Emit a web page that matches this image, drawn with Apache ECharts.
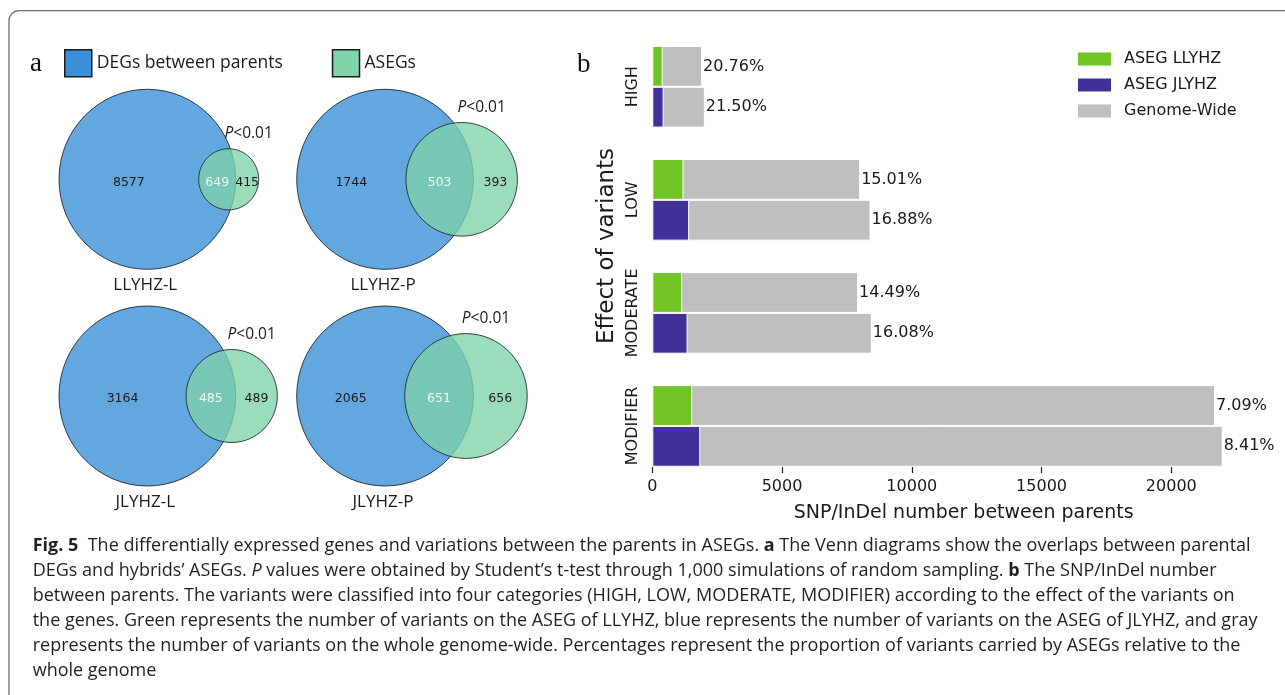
<!DOCTYPE html>
<html>
<head>
<meta charset="utf-8">
<script src="https://cdn.jsdelivr.net/npm/echarts@6.0.0/dist/echarts.min.js"></script>
<style>
html,body{margin:0;padding:0;background:#fff;}
#chart{width:1285px;height:695px;}
</style>
</head>
<body>
<div id="chart"></div>
<script>
// ---------------- DATA ----------------
// Panel a: Venn diagrams (DEGs between parents vs ASEGs)
const vennNames = ['LLYHZ-L', 'LLYHZ-P', 'JLYHZ-L', 'JLYHZ-P'];
const vennDegOnly = [8577, 1744, 3164, 2065];
const vennOverlap = [649, 503, 485, 651];
const vennAsegOnly = [415, 393, 489, 656];
const vennPText = '<0.01';
const vennLegendNames = ['DEGs between parents', 'ASEGs'];

// Panel b: SNP/InDel number between parents
const effectCategories = ['HIGH', 'LOW', 'MODERATE', 'MODIFIER'];
const genomeWideLLYHZ = [1920, 8010, 7930, 21685];
const genomeWideJLYHZ = [2025, 8410, 8460, 21980];
const asegLLYHZ = [400, 1202, 1149, 1537];
const asegJLYHZ = [436, 1420, 1360, 1849];
const pctLLYHZ = ['20.76%', '15.01%', '14.49%', '7.09%'];
const pctJLYHZ = ['21.50%', '16.88%', '16.08%', '8.41%'];
const xTicks = [0, 5000, 10000, 15000, 20000];
const barLegendNames = ['ASEG LLYHZ', 'ASEG JLYHZ', 'Genome-Wide'];

const captionLines = [
  '{b|Fig. 5}  The differentially expressed genes and variations between the parents in ASEGs. {b|a} The Venn diagrams show the overlaps between parental',
  'DEGs and hybrids\u2019 ASEGs. {i|P} values were obtained by Student\u2019s t-test through 1,000 simulations of random sampling. {b|b} The SNP/InDel number',
  'between parents. The variants were classified into four categories (HIGH, LOW, MODERATE, MODIFIER) according to the effect of the variants on',
  'the genes. Green represents the number of variants on the ASEG of LLYHZ, blue represents the number of variants on the ASEG of JLYHZ, and gray',
  'represents the number of variants on the whole genome-wide. Percentages represent the proportion of variants carried by ASEGs relative to the',
  'whole genome'
];

// ---------------- STYLE / LAYOUT ----------------
const TXT = '#1a1a1a';
const SANS = 'DejaVu Sans';
const OPEN = 'Open Sans';
const VENN_CX = [147.3, 385];
const VENN_CY = [179.3, 396];
const VENN_RX = 88.3, VENN_RY = 90;
const BLUE_FILL = '#62a7df';
const GREEN_FILL = 'rgba(126,210,169,0.78)';
const OUTLINE = 'rgba(35,35,35,0.85)';

const ELLIPSE_OK = !!(echarts.graphic && echarts.graphic.getShapeClass && echarts.graphic.getShapeClass('ellipse'));

// area-proportional two-circle layout (big circle radius 1)
function lensArea(r1, r2, d) {
  if (d >= r1 + r2) return 0;
  if (d <= Math.abs(r1 - r2)) return Math.PI * Math.min(r1, r2) * Math.min(r1, r2);
  const a1 = Math.acos((d * d + r1 * r1 - r2 * r2) / (2 * d * r1));
  const a2 = Math.acos((d * d + r2 * r2 - r1 * r1) / (2 * d * r2));
  return r1 * r1 * a1 + r2 * r2 * a2 -
    0.5 * Math.sqrt((-d + r1 + r2) * (d + r1 - r2) * (d - r1 + r2) * (d + r1 + r2));
}
function vennLayout(aOnly, ab, bOnly) {
  const A = aOnly + ab, B = bOnly + ab;
  const rB = Math.sqrt(B / A);
  const target = Math.PI * ab / A;
  let lo = Math.abs(1 - rB), hi = 1 + rB;
  for (let k = 0; k < 80; k++) {
    const mid = (lo + hi) / 2;
    if (lensArea(1, rB, mid) > target) lo = mid; else hi = mid;
  }
  const d = (lo + hi) / 2;
  return { d: d, rB: rB,
    xA: (-1 + d - rB) / 2, xO: (d - rB + 1) / 2, xB: (1 + d + rB) / 2 };
}

function circleRenderer(fill) {
  return function (params, api) {
    const c = api.coord([api.value(0), api.value(1)]);
    const s = api.size([api.value(2), api.value(2)]);
    const style = { fill: fill, stroke: OUTLINE, lineWidth: 1 };
    if (ELLIPSE_OK) {
      return { type: 'ellipse', shape: { cx: c[0], cy: c[1], rx: s[0], ry: s[1] }, style: style };
    }
    return { type: 'circle', shape: { cx: c[0], cy: c[1], r: (s[0] + s[1]) / 2 }, style: style };
  };
}
function numberRenderer(params, api) {
  const c = api.coord([api.value(0), api.value(1)]);
  const isOverlap = api.value(3) === 1;
  return { type: 'text', x: c[0], y: c[1] + 3,
    style: { text: String(api.value(2)), fill: isOverlap ? '#f2f5f5' : TXT,
      fontSize: 12.5, fontFamily: SANS, align: 'center', verticalAlign: 'middle' } };
}
function titleRenderer(params, api) {
  const c = api.coord([api.value(0), api.value(1)]);
  return { type: 'text', x: c[0] - 2, y: c[1] + 16,
    style: { text: vennNames[api.value(2)], fill: TXT, fontSize: 17, fontFamily: OPEN,
      align: 'center', verticalAlign: 'middle' } };
}
function pRenderer(params, api) {
  const c = api.coord([api.value(0), api.value(1)]);
  return { type: 'text', x: c[0] + 20, y: c[1] - 15,
    style: { text: '{i|P}' + vennPText, fill: TXT, fontSize: 15.5, fontFamily: OPEN,
      align: 'center', verticalAlign: 'middle',
      rich: { i: { fontStyle: 'italic', fontSize: 15.5, fontFamily: OPEN, fill: TXT, color: TXT } } } };
}

const grids = [], xAxes = [], yAxes = [], series = [];
vennNames.forEach(function (name, i) {
  const cx = VENN_CX[i % 2], cy = VENN_CY[Math.floor(i / 2)];
  grids.push({ left: cx - VENN_RX, top: cy - VENN_RY, width: 2 * VENN_RX, height: 2 * VENN_RY, outerBoundsMode: 'none' });
  xAxes.push({ gridIndex: i, type: 'value', min: -1, max: 1, show: false });
  yAxes.push({ gridIndex: i, type: 'value', min: -1, max: 1, show: false });
  const lay = vennLayout(vennDegOnly[i], vennOverlap[i], vennAsegOnly[i]);
  const common = { type: 'custom', coordinateSystem: 'cartesian2d', xAxisIndex: i, yAxisIndex: i,
    clip: false, silent: true, animation: false };
  series.push(Object.assign({}, common, { name: vennLegendNames[0], z: 2,
    itemStyle: { color: BLUE_FILL }, data: [[0, 0, 1]], renderItem: circleRenderer(BLUE_FILL) }));
  series.push(Object.assign({}, common, { name: vennLegendNames[1], z: 3,
    itemStyle: { color: GREEN_FILL }, data: [[lay.d, 0, lay.rB]], renderItem: circleRenderer(GREEN_FILL) }));
  series.push(Object.assign({}, common, { name: 'venn-counts-' + i, z: 4,
    data: [[lay.xA, 0, vennDegOnly[i], 0], [lay.xO, 0, vennOverlap[i], 1], [lay.xB, 0, vennAsegOnly[i], 2]],
    renderItem: numberRenderer }));
  series.push(Object.assign({}, common, { name: 'venn-title-' + i, z: 4,
    data: [[0, -1, i]], renderItem: titleRenderer }));
  series.push(Object.assign({}, common, { name: 'venn-p-' + i, z: 4,
    data: [[lay.d, lay.rB]], renderItem: pRenderer }));
});

// Panel b grid
grids.push({ left: 652.3, top: 30.25, width: 622.8, height: 452.2, outerBoundsMode: 'none' });
xAxes.push({ gridIndex: 4, type: 'value', min: 0, max: 24000, offset: -15.4,
  splitLine: { show: false }, axisLine: { show: false },
  axisTick: { show: true, length: 6, customValues: xTicks, lineStyle: { color: '#222', width: 1.2 } },
  axisLabel: { customValues: xTicks, fontSize: 16, fontFamily: SANS, color: TXT, margin: 12,
    formatter: function (v) { return String(v); } },
  name: 'SNP/InDel number between parents', nameLocation: 'middle', nameGap: 37,
  nameTextStyle: { fontSize: 19, fontFamily: SANS, color: TXT } });
yAxes.push({ gridIndex: 4, type: 'category', data: effectCategories, inverse: true,
  axisLine: { show: false }, axisTick: { show: false }, splitLine: { show: false },
  axisLabel: { rotate: 90, interval: 0, hideOverlap: false, fontSize: 16, fontFamily: SANS, color: TXT, margin: 11 } });
yAxes.push({ gridIndex: 4, type: 'category', data: effectCategories, inverse: true, show: false });

const barCommon = { type: 'bar', xAxisIndex: 4, barGap: '0%', barCategoryGap: '27.8%', animation: false, silent: true };
series.push(Object.assign({}, barCommon, { name: barLegendNames[2], yAxisIndex: 4, data: genomeWideLLYHZ,
  itemStyle: { color: '#bfbfbf', borderColor: '#ffffff', borderWidth: 1 },
  label: { show: true, position: 'right', distance: 1, formatter: function (p) { return pctLLYHZ[p.dataIndex]; },
    fontSize: 16, fontFamily: SANS, color: TXT } }));
series.push(Object.assign({}, barCommon, { name: barLegendNames[2], yAxisIndex: 4, data: genomeWideJLYHZ,
  itemStyle: { color: '#bfbfbf', borderColor: '#ffffff', borderWidth: 1 },
  label: { show: true, position: 'right', distance: 1, formatter: function (p) { return pctJLYHZ[p.dataIndex]; },
    fontSize: 16, fontFamily: SANS, color: TXT } }));
series.push(Object.assign({}, barCommon, { name: barLegendNames[0], yAxisIndex: 5, data: asegLLYHZ, z: 3,
  itemStyle: { color: '#70c424', borderColor: '#ffffff', borderWidth: 1 } }));
series.push(Object.assign({}, barCommon, { name: barLegendNames[1], yAxisIndex: 5, data: asegJLYHZ, z: 3,
  itemStyle: { color: '#433199', borderColor: '#ffffff', borderWidth: 1 } }));

// caption sizing (fit the known line width)
function fitSize(text, family, target) {
  const ctx = document.createElement('canvas').getContext('2d');
  ctx.font = '100px "' + family + '"';
  return 100 * target / ctx.measureText(text).width;
}
const CAP_FONT = 'Open Sans';
const capSize = fitSize(captionLines[3], CAP_FONT, 1226);
const captionGraphics = captionLines.map(function (line, k) {
  return { type: 'text', x: 32.7, y: 545.7 + 25 * k, silent: true,
    style: { text: line, fill: '#231f20', fontSize: capSize, fontFamily: CAP_FONT,
      align: 'left', verticalAlign: 'middle',
      rich: {
        b: { fontWeight: 'bold', fontSize: capSize, fontFamily: CAP_FONT, fill: '#231f20', color: '#231f20' },
        i: { fontStyle: 'italic', fontSize: capSize, fontFamily: CAP_FONT, fill: '#231f20', color: '#231f20' }
      } } };
});

const chart = echarts.init(document.getElementById('chart'), null, { renderer: 'canvas' });
chart.setOption({
  animation: false,
  backgroundColor: '#ffffff',
  grid: grids,
  xAxis: xAxes,
  yAxis: yAxes,
  legend: [
    { left: 59, top: 44, itemWidth: 27, itemHeight: 27, itemGap: 49, icon: 'rect', selectedMode: false,
      data: [
        { name: vennLegendNames[0], itemStyle: { color: '#3b8fd8', borderColor: '#1a1a1a', borderWidth: 1.5 } },
        { name: vennLegendNames[1], itemStyle: { color: '#7fd4a9', borderColor: '#1a1a1a', borderWidth: 1.5 } }
      ],
      textStyle: { fontFamily: OPEN, fontSize: 17.5, color: TXT } },
    { orient: 'vertical', left: 1073, top: 46, itemWidth: 33, itemHeight: 13, itemGap: 10, icon: 'rect',
      selectedMode: false,
      data: [
        { name: barLegendNames[0], itemStyle: { color: '#70c424', borderWidth: 0 } },
        { name: barLegendNames[1], itemStyle: { color: '#433199', borderWidth: 0 } },
        { name: barLegendNames[2], itemStyle: { color: '#bfbfbf', borderWidth: 0 } }
      ],
      textStyle: { fontFamily: SANS, fontSize: 16, color: TXT, padding: [0, 0, 0, 8] } }
  ],
  graphic: [
    { type: 'rect', silent: true, z: -10, shape: { x: 9, y: 10.7, width: 1300, height: 720, r: 10 },
      style: { fill: 'none', stroke: '#6e6e6e', lineWidth: 1.3 } },
    { type: 'text', x: 30, y: 50, silent: true,
      style: { text: 'a', fontSize: 27, fontFamily: 'Liberation Serif', fill: '#111', align: 'left', verticalAlign: 'alphabetic' } },
    { type: 'text', x: 577, y: 51, silent: true,
      style: { text: 'b', fontSize: 27, fontFamily: 'Liberation Serif', fill: '#111', align: 'left', verticalAlign: 'alphabetic' } },
    { type: 'text', x: 607, y: 246, rotation: Math.PI / 2, silent: true,
      style: { text: 'Effect of variants', fontSize: 23, fontFamily: SANS, fill: TXT, align: 'center', verticalAlign: 'middle' } }
  ].concat(captionGraphics),
  series: series
});
</script>
</body>
</html>
